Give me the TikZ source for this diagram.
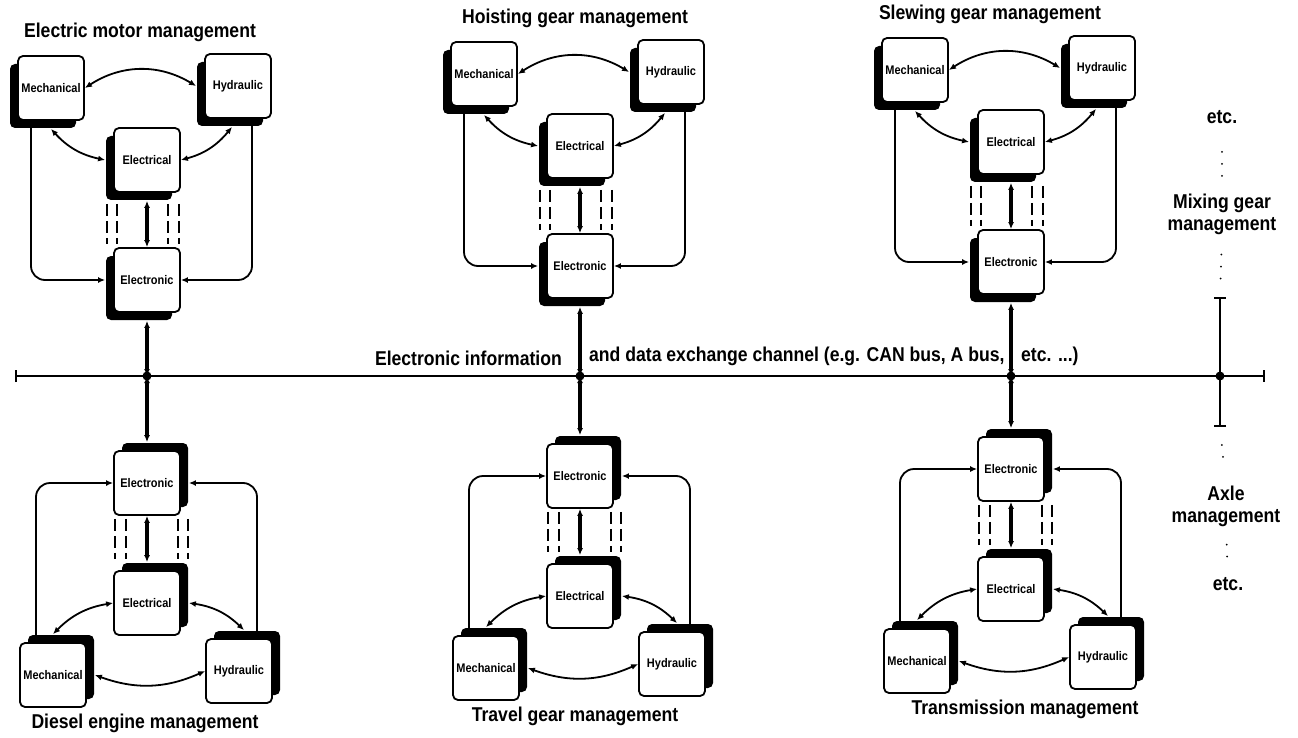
\documentclass[tikz,border=0pt]{standalone}
\usepackage{fontspec}
\setmainfont{Liberation Sans}[FakeStretch=0.88]
\usetikzlibrary{calc,arrows.meta,shadows,backgrounds}

\tikzset{
  unitbox/.style={draw, line width=1.8pt, fill=white, rounded corners=5pt,
    minimum width=66pt, minimum height=64pt, inner sep=0pt,
    font=\bfseries\fontsize{12.5}{14}\selectfont},
  upunit/.style={unitbox, drop shadow={shadow xshift=-8pt, shadow yshift=-8pt, fill=black, opacity=1}},
  downunit/.style={unitbox, drop shadow={shadow xshift=8pt, shadow yshift=8pt, fill=black, opacity=1}},
  link/.style={line width=1.8pt},
  mainlink/.style={line width=3.6pt},
  pipeline/.style={line width=1.8pt, dash pattern=on 12pt off 5pt},
  busline/.style={line width=2.2pt},
  junction/.style={circle, fill=black, inner sep=0pt, minimum size=9pt},
  grouptitle/.style={font=\bfseries\fontsize{20}{22}\selectfont, inner sep=0pt},
  sidelabel/.style={grouptitle, align=center},
  buslabel/.style={font=\bfseries\fontsize{20}{22}\selectfont, inner sep=0pt},
  crumbs/.style={line width=2pt, line cap=round, dash pattern=on 0pt off 12pt},
}

\begin{document}
\begin{tikzpicture}[x=1pt, y=-1pt, >={Latex[length=7pt,width=6pt]}]
\useasboundingbox (0,0) rectangle (1298,738);

\coordinate (bus-w) at (15,376);
\coordinate (bus-e) at (1265,376);
\coordinate (bar-n) at (1220,297);
\coordinate (bar-s) at (1220,427);

% upper row
\foreach \g/\x/\y/\tx/\ttl in {a/147/280/140/Electric motor management,
    b/580/266/575/Hoisting gear management, c/1011/262/990/Slewing gear management}{
  \node[upunit] (\g-et) at (\x,\y) {Electronic};
  \node[upunit] (\g-ec) at ($(\g-et)+(0,-120)$) {Electrical};
  \node[upunit] (\g-me) at ($(\g-et)+(-96,-192)$) {Mechanical};
  \node[upunit] (\g-hy) at ($(\g-et)+(91,-194)$) {Hydraulic};
  \node[grouptitle] (\g-title) at (\tx,\y-248) {\ttl};
  \node[junction] (\g-jn) at (\g-et.south |- bus-w) {};
  \begin{scope}[on background layer]
    \draw[link,<->] (\g-me.east) to[bend left=32] ([xshift=-8pt]\g-hy.west);
    \draw[link,<->] ([yshift=-8pt]\g-me.south) to[bend right=18] ([xshift=-8pt]\g-ec.west);
    \draw[link,<->] ([xshift=-6pt,yshift=-8pt]\g-hy.south) to[bend left=18] (\g-ec.east);
    \draw[mainlink,<->] ([yshift=-8pt]\g-ec.south) -- (\g-et.north);
    \foreach \d in {-40,-30,21,32}
      \draw[pipeline] ([xshift=\d pt,yshift=-11pt]\g-ec.south) -- ([xshift=\d pt,yshift=3pt]\g-et.north);
    \draw[link,->,rounded corners=14pt] ([xshift=-20pt]\g-me.south) |- ([xshift=-8pt]\g-et.west);
    \draw[link,->,rounded corners=14pt] ([xshift=14pt]\g-hy.south) |- (\g-et.east);
    \draw[mainlink,<->] ([yshift=-8pt]\g-et.south) -- (\g-jn.center);
  \end{scope}
}

% lower row
\foreach \g/\x/\y/\tx/\ttl in {d/147/483/145/Diesel engine management,
    e/580/476/575/Travel gear management, f/1011/469/1025/Transmission management}{
  \node[downunit] (\g-et) at (\x,\y) {Electronic};
  \node[downunit] (\g-ec) at ($(\g-et)+(0,120)$) {Electrical};
  \node[downunit] (\g-me) at ($(\g-et)+(-94,192)$) {Mechanical};
  \node[downunit] (\g-hy) at ($(\g-et)+(92,188)$) {Hydraulic};
  \node[grouptitle] (\g-title) at (\tx,\y+240) {\ttl};
  \begin{scope}[on background layer]
    \draw[link,<->] ([xshift=8pt]\g-me.east) to[bend right=22] (\g-hy.west);
    \draw[link,<->] ([yshift=8pt]\g-me.north) to[bend left=18] (\g-ec.west);
    \draw[link,<->] ([xshift=5pt,yshift=8pt]\g-hy.north) to[bend right=18] ([xshift=8pt]\g-ec.east);
    \draw[mainlink,<->] (\g-et.south) -- ([yshift=8pt]\g-ec.north);
    \foreach \d in {-32,-21,31,41}
      \draw[pipeline] ([xshift=\d pt,yshift=-3pt]\g-et.south) -- ([xshift=\d pt,yshift=11pt]\g-ec.north);
    \draw[link,->,rounded corners=14pt] ([xshift=-17pt]\g-me.north) |- (\g-et.west);
    \draw[link,->,rounded corners=14pt] ([xshift=18pt]\g-hy.north) |- ([xshift=8pt]\g-et.east);
    \draw[mainlink,<->] ([yshift=8pt]\g-et.north) -- (\g-et.north |- bus-w);
  \end{scope}
}

% bus
\node[junction] (bar-jn) at (bar-n |- bus-w) {};
\draw[busline,{Bar[width=12pt]}-{Bar[width=12pt]}] (bus-w) -- (bus-e);
\draw[busline,{Bar[width=12pt]}-{Bar[width=12pt]}] (bar-n) -- (bar-s);
\node[buslabel, anchor=east] (bus-a) at (562,358) {Electronic information};
\node[buslabel, anchor=west] (bus-b) at (589,356) {and data exchange channel (e.g. CAN bus, A bus,};
\node[buslabel, anchor=west] (bus-c) at (1021,356) {etc. ...)};

% further units
\node[grouptitle] (etc-a) at (1222,117) {etc.};
\node[sidelabel] (mix) at (1222,214) {Mixing gear\\management};
\node[sidelabel] (axle) at (1226,506) {Axle\\management};
\node[grouptitle] (etc-b) at (1228,584) {etc.};
\draw[crumbs, shorten <=28pt, shorten >=12pt] (etc-a.south) -- (mix.north);
\draw[crumbs, shorten <=20pt, shorten >=14pt] (mix.south) -- (bar-n);
\draw[crumbs, shorten <=18pt, shorten >=20pt] (bar-s) -- (axle.north);
\draw[crumbs, shorten <=18pt, shorten >=16pt] (axle.south) -- (etc-b.north);

\end{tikzpicture}
\end{document}
